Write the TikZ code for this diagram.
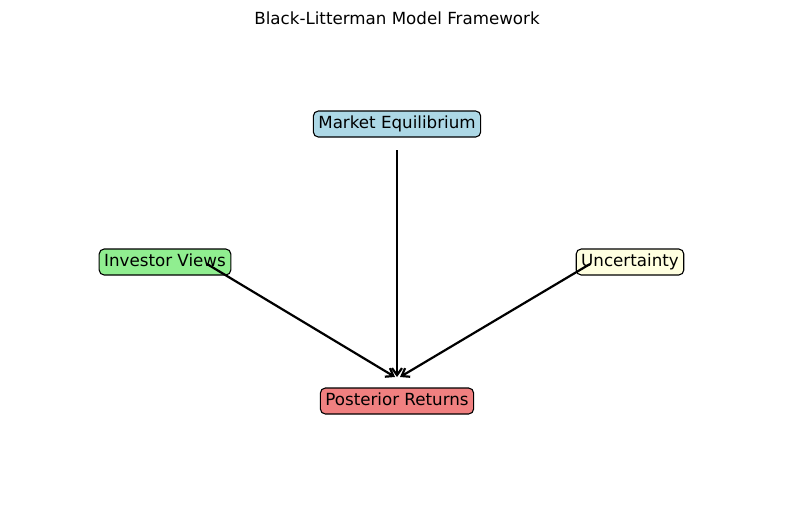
\documentclass[tikz,border=0pt]{standalone}
\usepackage{fontspec}
\setmainfont{DejaVu Sans}
\usepackage{tikz}
\usetikzlibrary{arrows.meta,calc}
\definecolor{MarketBlue}{HTML}{ADD8E6}
\definecolor{ViewsGreen}{HTML}{90EE90}
\definecolor{UncYellow}{HTML}{FFFFE0}
\definecolor{PostCoral}{HTML}{F08080}

\begin{document}
\begin{tikzpicture}[x=1pt,y=-1pt,
    box/.style={draw=black,line width=1.1pt,rounded corners=5pt,inner xsep=5pt,inner ysep=5pt,
      text height=12.5pt,text depth=3.5pt,font=\fontsize{16.7}{20}\selectfont,text=black},
    flow/.style={line width=2.2pt,-{Straight Barb[length=7pt,width=10pt,line width=2.2pt]}}]
      \useasboundingbox (0,0) rectangle (794,504);
      \node[font=\fontsize{16.7}{20}\selectfont] (title) at (397,18) {Black-Litterman Model Framework};
      \node[box,fill=MarketBlue] (market) at (397,124) {Market Equilibrium};
      \node[box,fill=ViewsGreen] (views) at (165,262) {Investor Views};
      \node[box,fill=UncYellow] (unc) at (630,262) {Uncertainty};
      \node[box,fill=PostCoral] (post) at (397,401) {Posterior Returns};
      \coordinate (mstart) at ($(market.center)+(0,26)$);
      \coordinate (vstart) at ($(views.center)+(42,2)$);
      \coordinate (ustart) at ($(unc.center)+(-40,2)$);
      \coordinate (ptip) at ($(post.center)+(0,-24)$);
      \draw[flow] (mstart) -- (ptip);
      \draw[flow] (vstart) -- ($(ptip)+(-2,0)$);
      \draw[flow] (ustart) -- ($(ptip)+(3,0)$);
    \end{tikzpicture}
\end{document}
